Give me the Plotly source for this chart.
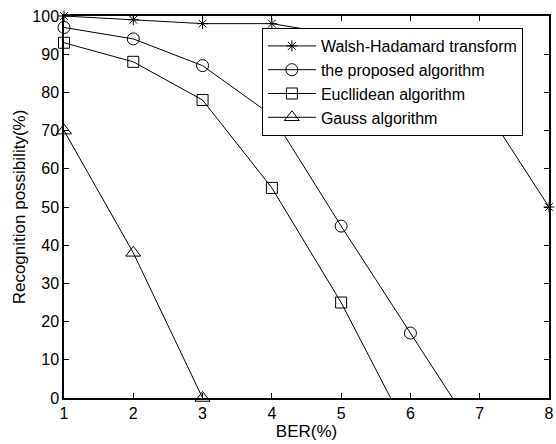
import plotly.graph_objects as go

ber = [1, 2, 3, 4, 5, 6, 7, 8]
walsh_hadamard = [100, 99, 98, 98, 95, 88, 78, 50]
proposed = [97, 94, 87, 74, 45, 17, -11, None]
euclidean = [93, 88, 78, 55, 25, -10, None, None]
gauss = [70, 38, 0, None, None, None, None, None]

x_ticks = [1, 2, 3, 4, 5, 6, 7, 8]
y_ticks = [0, 10, 20, 30, 40, 50, 60, 70, 80, 90, 100]

series = [
    ("Walsh-Hadamard transform", walsh_hadamard, "asterisk-open", 9),
    ("the proposed algorithm", proposed, "circle-open", 12),
    ("Eucllidean algorithm", euclidean, "square-open", 11),
    ("Gauss algorithm", gauss, "triangle-up-open", 13),
]

fig = go.Figure()
for name, vals, sym, size in series:
    xs = [x for x, v in zip(ber, vals) if v is not None]
    ys = [v for v in vals if v is not None]
    # line part (clipped to plot area)
    fig.add_trace(go.Scatter(
        x=xs, y=ys, mode="lines", line=dict(color="black", width=1),
        showlegend=False, hoverinfo="skip"))
    # marker part (only points within range, not clipped at the frame)
    mx = [x for x, y in zip(xs, ys) if 0 <= y <= 100]
    my = [y for y in ys if 0 <= y <= 100]
    fig.add_trace(go.Scatter(
        x=mx, y=my, mode="markers", cliponaxis=False, showlegend=False,
        marker=dict(symbol=sym, size=size, color="black",
                    line=dict(color="black", width=1))))
    # legend entry
    fig.add_trace(go.Scatter(
        x=[None], y=[None], mode="lines+markers", name=name,
        line=dict(color="black", width=1),
        marker=dict(symbol=sym, size=size, color="black",
                    line=dict(color="black", width=1))))

axis_common = dict(
    showgrid=False, zeroline=False, showline=True, linecolor="black",
    linewidth=1.5, mirror="ticks", ticks="inside", ticklen=5,
    tickcolor="black", tickfont=dict(family="Liberation Sans, Arial", size=16,
                                      color="black"),
)

fig.update_layout(
    width=556, height=444,
    margin=dict(l=64, r=7, t=16, b=46),
    paper_bgcolor="white", plot_bgcolor="white",
    font=dict(family="Liberation Sans, Arial", size=16, color="black"),
    xaxis=dict(range=[1, 8], tickvals=x_ticks, automargin=False,
               title=dict(text="BER(%)", font=dict(size=17), standoff=4),
               **axis_common),
    yaxis=dict(range=[0, 100], tickvals=y_ticks, automargin=False,
               title=dict(text="Recognition possibility(%)", font=dict(size=17),
                          standoff=2),
               **axis_common),
    legend=dict(x=0.408, y=0.9686, xanchor="left", yanchor="top",
                bgcolor="white", bordercolor="black", borderwidth=1,
                font=dict(size=16), itemwidth=48, tracegroupgap=0),
)

fig.write_html(
    "out.html",
    config={"displayModeBar": False},
    post_script="document.body.style.margin='0';document.body.style.overflow='hidden';",
)
